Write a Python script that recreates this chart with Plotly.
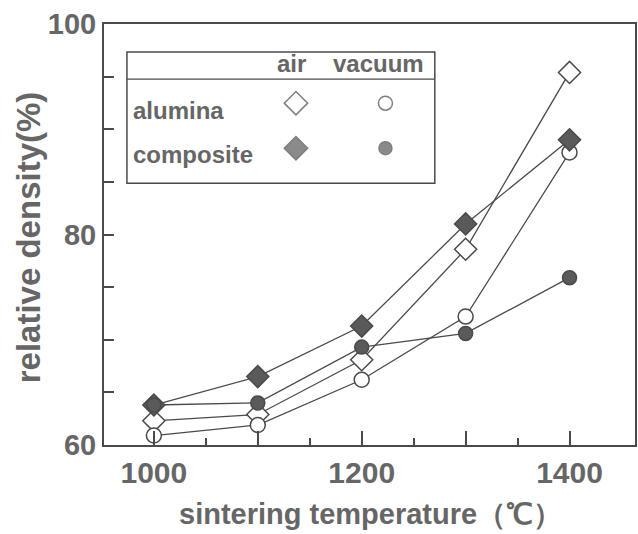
import plotly.graph_objects as go

temps = [1000, 1100, 1200, 1300, 1400]
alumina_air = [62.3, 62.9, 68.1, 78.6, 95.4]
alumina_vacuum = [60.9, 61.9, 66.2, 72.2, 87.8]
composite_air = [63.8, 66.5, 71.3, 81.0, 89.0]
composite_vacuum = [63.8, 64.0, 69.3, 70.6, 75.9]

x_tickvals = [1000, 1100, 1200, 1300, 1400]
x_ticktext = ["1000", "", "1200", "", "1400"]
y_tickvals = [60, 65, 70, 75, 80, 85, 90, 95, 100]
y_ticktext = ["60", "", "", "", "80", "", "", "", "100"]

LINE = "#4a4a4a"
TEXT = "#666666"
FILL = "#5a5a5a"
FONT = "Liberation Sans, Arial, sans-serif"

fig = go.Figure()

series = [
    (alumina_air, "diamond", "white", 17),
    (alumina_vacuum, "circle", "white", 15),
    (composite_air, "diamond", FILL, 17),
    (composite_vacuum, "circle", FILL, 14),
]
for vals, sym, fill, size in series:
    fig.add_trace(go.Scatter(
        x=temps, y=vals, mode="lines",
        line=dict(color=LINE, width=1.3), showlegend=False, hoverinfo="skip"))
for vals, sym, fill, size in series:
    fig.add_trace(go.Scatter(
        x=temps, y=vals, mode="markers",
        marker=dict(symbol=sym, size=size, color=fill,
                    line=dict(color=LINE, width=1.5)),
        showlegend=False))

# legend symbols on an overlay axis (0..1 paper-like)
leg_x = [0.3615, 0.530, 0.3615, 0.530]
leg_y = [0.812, 0.812, 0.705, 0.705]
leg_sym = ["diamond", "circle", "diamond", "circle"]
leg_fill = ["white", "white", FILL, FILL]
leg_size = [18, 14, 18, 13]
fig.add_trace(go.Scatter(
    x=leg_x, y=leg_y, mode="markers", xaxis="x2", yaxis="y2",
    marker=dict(symbol=leg_sym, size=leg_size, color=leg_fill,
                line=dict(color=LINE, width=1.5)),
    showlegend=False, hoverinfo="skip"))

fig.update_layout(
    width=638, height=534,
    margin=dict(l=104, r=1, t=24, b=89),
    paper_bgcolor="white", plot_bgcolor="white",
    font=dict(family=FONT, color=TEXT),
    xaxis=dict(
        range=[952, 1463], tickvals=x_tickvals, ticktext=x_ticktext,
        ticks="inside", ticklen=14, tickwidth=1.5, tickcolor=LINE,
        minor=dict(tickvals=[1050, 1150, 1250, 1350], ticks="inside",
                   ticklen=7, tickwidth=1.5, tickcolor=LINE),
        showline=True, linecolor=LINE, linewidth=2, mirror=True,
        showgrid=False, zeroline=False,
        tickfont=dict(size=30, family=FONT, color=TEXT, weight="bold"),
    ),
    yaxis=dict(
        range=[60, 100], tickvals=y_tickvals, ticktext=y_ticktext,
        ticks="inside", ticklen=10, tickwidth=1.5, tickcolor=LINE,
        showline=True, linecolor=LINE, linewidth=2, mirror=True,
        showgrid=False, zeroline=False,
        tickfont=dict(size=29, family=FONT, color=TEXT, weight="bold"),
    ),
    xaxis2=dict(range=[0, 1], overlaying="x", visible=False, domain=[0, 1]),
    yaxis2=dict(range=[0, 1], overlaying="y", visible=False),
)

# legend box
fig.add_shape(type="rect", xref="paper", yref="paper",
              x0=0.0432, x1=0.623, y0=0.622, y1=0.9335,
              line=dict(color=LINE, width=1.5), fillcolor="rgba(0,0,0,0)", layer="above")
fig.add_shape(type="line", xref="paper", yref="paper",
              x0=0.0432, x1=0.623, y0=0.869, y1=0.869,
              line=dict(color=LINE, width=1.3))

lf = dict(size=24, family=FONT, color=TEXT, weight="bold")
fig.add_annotation(xref="paper", yref="paper", x=0.354, y=0.905, text="air",
                   showarrow=False, xanchor="center", yanchor="middle", font=lf)
fig.add_annotation(xref="paper", yref="paper", x=0.517, y=0.905, text="vacuum",
                   showarrow=False, xanchor="center", yanchor="middle", font=lf)
fig.add_annotation(xref="paper", yref="paper", x=0.050, y=0.795, text="alumina",
                   showarrow=False, xanchor="left", yanchor="middle", font=lf)
fig.add_annotation(xref="paper", yref="paper", x=0.050, y=0.690, text="composite",
                   showarrow=False, xanchor="left", yanchor="middle", font=lf)

# axis titles
fig.add_annotation(xref="paper", yref="paper", x=(372 - 104) / 533, y=(445 - 514) / 421,
                   text="sintering temperature（℃）", showarrow=False,
                   xanchor="center", yanchor="middle",
                   font=dict(size=29, family=FONT, color=TEXT, weight="bold"))
fig.add_annotation(xref="paper", yref="paper", x=(28 - 104) / 533, y=(445 - 237) / 421,
                   text="relative density(%)", showarrow=False, textangle=-90,
                   xanchor="center", yanchor="middle",
                   font=dict(size=33, family=FONT, color=TEXT, weight="bold"))

fig.write_html("out.html")
